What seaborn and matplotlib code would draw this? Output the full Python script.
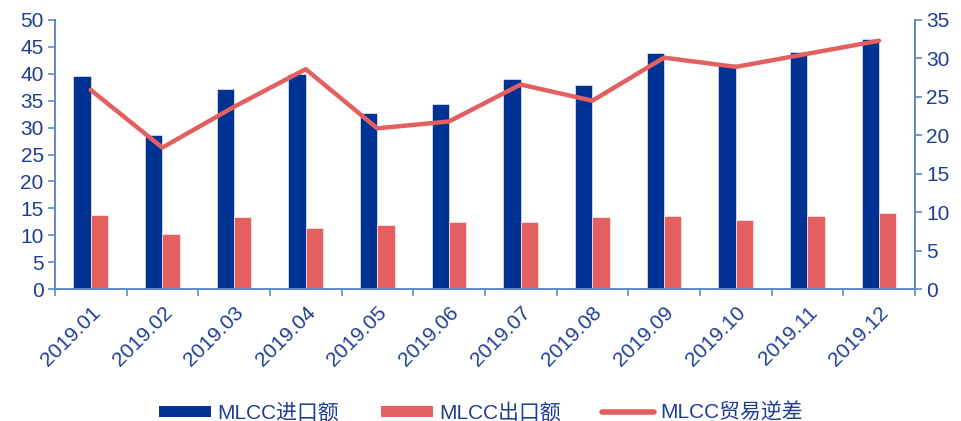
import numpy as np
import pandas as pd
import matplotlib
matplotlib.use("Agg")
import matplotlib.pyplot as plt
from matplotlib.ticker import MultipleLocator, FixedLocator
from matplotlib.patches import Patch
from matplotlib.lines import Line2D
import seaborn as sns

months = ["2019.01", "2019.02", "2019.03", "2019.04", "2019.05", "2019.06",
          "2019.07", "2019.08", "2019.09", "2019.10", "2019.11", "2019.12"]
imports = [39.6, 28.6, 37.1, 40.0, 32.8, 34.3, 39.0, 37.9, 43.8, 41.8, 44.1, 46.4]
exports = [13.7, 10.2, 13.4, 11.3, 11.9, 12.5, 12.5, 13.4, 13.6, 12.8, 13.5, 14.1]
deficit = [25.9, 18.4, 23.7, 28.6, 20.9, 21.8, 26.6, 24.5, 30.1, 28.9, 30.6, 32.3]

s_imp = "MLCC进口额"
s_exp = "MLCC出口额"
s_def = "MLCC贸易逆差"

NAVY = "#003294"
RED = "#E45F5F"
AXIS = "#5B8BC5"
TEXT = "#1E3D96"

sns.set_theme(style="white")
plt.rcParams["font.family"] = ["Liberation Sans", "Noto Sans CJK SC", "DejaVu Sans"]

bars = pd.DataFrame({
    "month": months * 2,
    "value": imports + exports,
    "series": [s_imp] * len(months) + [s_exp] * len(months),
})
line = pd.DataFrame({"month": months, "value": deficit})

fig = plt.figure(figsize=(9.62, 4.21), dpi=100)
ax = fig.add_axes([0.057, 0.3135, 0.894, 0.639])

sns.barplot(data=bars, x="month", y="value", hue="series",
            hue_order=[s_imp, s_exp], palette=[NAVY, RED],
            width=0.48, gap=0, saturation=1, ax=ax, legend=False,
            edgecolor="white", linewidth=0.4)

ax2 = ax.twinx()
sns.lineplot(data=line, x="month", y="value", color=RED, linewidth=3.2,
             sort=False, ax=ax2, legend=False)

ax.set_xlim(-0.5, len(months) - 0.5)
ax.set_ylim(0, 50)
ax2.set_ylim(0, 35)
ax.yaxis.set_major_locator(MultipleLocator(5))
ax2.yaxis.set_major_locator(MultipleLocator(5))

ax.set_xlabel("")
ax.set_ylabel("")
ax2.set_xlabel("")
ax2.set_ylabel("")

# category labels at centers, tick marks at category boundaries
ax.set_xticks(range(len(months)))
ax.set_xticklabels(months, rotation=45, ha="right", rotation_mode="anchor")
ax.xaxis.set_minor_locator(FixedLocator(np.arange(-0.5, len(months), 1.0)))
ax.tick_params(axis="x", which="major", length=0, pad=10, labelsize=15, labelcolor=TEXT)
ax.tick_params(axis="x", which="minor", length=5, width=1.2, color=AXIS, bottom=True)

ax.tick_params(axis="y", which="major", left=True, length=5, width=1.2, color=AXIS,
               labelsize=15, labelcolor=TEXT, pad=3)
ax2.tick_params(axis="y", which="major", right=True, length=5, width=1.2, color=AXIS,
                labelsize=15, labelcolor=TEXT, pad=3)

for a in (ax, ax2):
    a.spines["top"].set_visible(False)
    for side in ("left", "right", "bottom"):
        a.spines[side].set_color(AXIS)
        a.spines[side].set_linewidth(1.4)
ax.spines["right"].set_visible(False)
ax2.spines["left"].set_visible(False)
ax2.spines["bottom"].set_visible(False)
ax.grid(False)
ax2.grid(False)

handles = [
    Patch(facecolor=NAVY, edgecolor="none", label=s_imp),
    Patch(facecolor=RED, edgecolor="none", label=s_exp),
    Line2D([0], [0], color=RED, linewidth=4, solid_capstyle="round", label=s_def),
]
leg = fig.legend(handles=handles, loc="center", bbox_to_anchor=(0.5, 0.02),
                 ncol=3, frameon=False, fontsize=15, handlelength=2.5,
                 handleheight=0.45, handletextpad=0.3, columnspacing=2.0)
for t in leg.get_texts():
    t.set_color(TEXT)

fig.savefig("out.png", dpi=100, facecolor="white")
